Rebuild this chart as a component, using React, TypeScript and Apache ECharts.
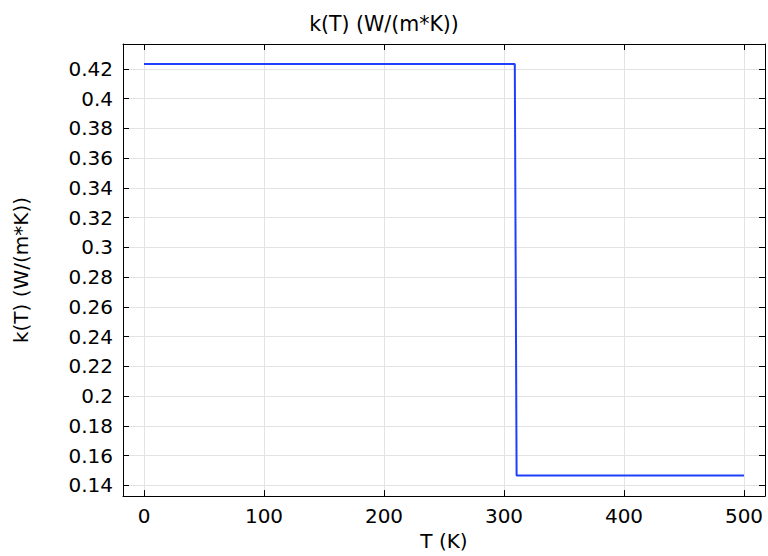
import React, { useEffect, useRef } from "react";
import * as echarts from "echarts";

const temperature = [0, 309, 310.5, 500];
const conductivity = [0.4233, 0.4233, 0.1466, 0.1466];
const xTicks = [0, 100, 200, 300, 400, 500];
const yTicks = [0.14, 0.16, 0.18, 0.2, 0.22, 0.24, 0.26, 0.28, 0.3, 0.32, 0.34, 0.36, 0.38, 0.4, 0.42];
const titleText = "k(T) (W/(m*K))";
const xName = "T (K)";
const yName = "k(T) (W/(m*K))";

const FONT = "DejaVu Sans";

export default function App() {
  const ref = useRef<HTMLDivElement>(null);
  useEffect(() => {
    if (!ref.current) return;
    const chart = echarts.init(ref.current, undefined, { renderer: "svg" });
    const xMin = -17.5, xMax = 517.5, yMin = 0.1327, yMax = 0.4367;
    const tickStyle = { show: true, inside: true, length: 6, lineStyle: { color: "#000", width: 1 } };
    const lineStyle = { show: true, onZero: false, lineStyle: { color: "#000", width: 1 } };
    chart.setOption({
      animation: false,
      backgroundColor: "#fff",
      textStyle: { fontFamily: FONT },
      title: {
        text: titleText,
        left: "center",
        top: 8,
        textStyle: { fontFamily: FONT, fontSize: 20.5, fontWeight: "normal", color: "#000" },
      },
      grid: { left: 123, right: 3, top: 44, bottom: 56, containLabel: false },
      xAxis: [
        {
          type: "value",
          position: "bottom",
          min: xMin,
          max: xMax,
          name: xName,
          nameLocation: "middle",
          nameGap: 30,
          nameTextStyle: { fontFamily: FONT, fontSize: 20, color: "#000" },
          axisLine: lineStyle,
          axisTick: { ...tickStyle, customValues: xTicks },
          axisLabel: { customValues: xTicks, fontFamily: FONT, fontSize: 20, color: "#000", margin: 10 },
          splitLine: { show: true, lineStyle: { color: "#e3e3e3", width: 1 } },
        },
        {
          type: "value",
          position: "top",
          min: xMin,
          max: xMax,
          axisLine: lineStyle,
          axisTick: { ...tickStyle, customValues: xTicks },
          axisLabel: { show: false },
          splitLine: { show: false },
        },
      ],
      yAxis: [
        {
          type: "value",
          position: "left",
          min: yMin,
          max: yMax,
          name: yName,
          nameLocation: "middle",
          nameGap: 92,
          nameRotate: 90,
          nameTextStyle: { fontFamily: FONT, fontSize: 20, color: "#000" },
          axisLine: lineStyle,
          axisTick: { ...tickStyle, customValues: yTicks },
          axisLabel: { customValues: yTicks, fontFamily: FONT, fontSize: 20, color: "#000", margin: 10 },
          splitLine: { show: true, lineStyle: { color: "#e3e3e3", width: 1 } },
        },
        {
          type: "value",
          position: "right",
          min: yMin,
          max: yMax,
          axisLine: lineStyle,
          axisTick: { ...tickStyle, customValues: yTicks },
          axisLabel: { show: false },
          splitLine: { show: false },
        },
      ],
      series: [
        {
          type: "line",
          xAxisIndex: 0,
          yAxisIndex: 0,
          showSymbol: false,
          data: temperature.map((t, i) => [t, conductivity[i]]),
          lineStyle: { color: "#1f3fff", width: 2 },
          itemStyle: { color: "#1f3fff" },
        },
      ],
    });
    return () => chart.dispose();
  }, []);
  return (
    <div
      ref={ref}
      style={{ position: "absolute", left: 0, top: 0, width: 768, height: 556 }}
    />
  );
}
